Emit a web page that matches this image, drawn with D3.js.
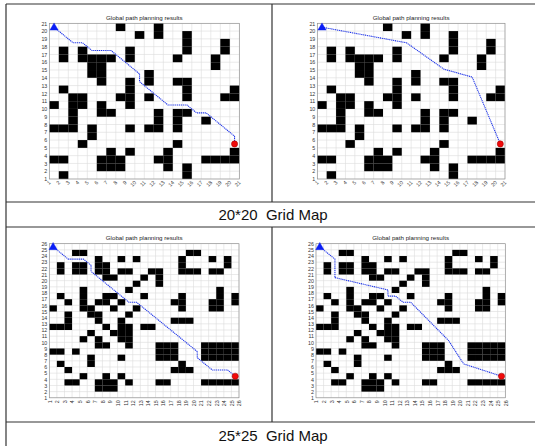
<!DOCTYPE html>
<html>
<head>
<meta charset="utf-8">
<script src="https://cdn.jsdelivr.net/npm/d3@7"></script>
<style>
  body { margin: 0; background: #fff; }
  svg { display: block; }
</style>
</head>
<body>
<svg id="fig" width="535" height="446"></svg>
<script>
const titleText = "Global path planning results";
const captions = ["20*20  Grid Map", "25*25  Grid Map"];

// obstacle cells, one entry per grid row: [row, [columns]]
const blocks20 = [
  [20, [8, 12]],
  [19, [10, 12, 15]],
  [18, [15, 19]],
  [17, [2, 4, 9, 15, 19]],
  [16, [2, 4, 5, 6, 7, 9, 14, 18]],
  [15, [5, 6, 18]],
  [14, [5, 6, 11]],
  [13, [6, 9, 11, 14, 15]],
  [12, [2, 9, 15, 20]],
  [11, [3, 4, 8, 9, 11, 15, 19, 20]],
  [10, [1, 3, 4, 6, 9]],
  [9, [3, 6, 7, 12, 14, 15]],
  [8, [3, 12, 14, 17]],
  [7, [1, 2, 3, 5, 9, 11, 12, 14]],
  [6, [5]],
  [5, [4, 14]],
  [4, [7, 9, 13, 20]],
  [3, [1, 2, 6, 7, 8, 12, 13, 17, 18, 19, 20]],
  [2, [6, 7, 8, 13, 15]],
  [1, [2, 15]]
];

const blocks25 = [
  [24, [4, 5, 19, 20]],
  [23, [7, 10, 12, 18, 22, 24]],
  [22, [2, 4, 5, 7, 8, 18, 24]],
  [21, [2, 4, 5, 7, 8, 10, 11, 14, 15, 18, 19, 20, 22, 23]],
  [20, [8, 9, 13, 15]],
  [19, [12, 15]],
  [18, [5, 11, 23]],
  [17, [2, 5, 8, 9, 13, 18, 23, 25]],
  [16, [3, 5, 7, 8, 10, 17, 18, 22, 23, 25]],
  [15, [1, 5, 6, 9, 12, 18, 22, 23]],
  [14, [3, 6, 7, 11]],
  [13, [3, 7, 10, 17, 18, 19]],
  [12, [1, 2, 3, 8, 10, 11, 13, 14]],
  [11, [6, 9, 10, 11]],
  [10, [5, 7, 10, 11]],
  [9, [7, 8, 11, 15, 16, 17, 21, 22, 23, 24, 25]],
  [8, [1, 2, 4, 15, 16, 17, 21, 22, 23, 24, 25]],
  [7, [6, 10, 15, 16, 17, 21, 22, 23, 24, 25]],
  [6, [2, 6, 18]],
  [5, [3, 17, 18, 19]],
  [4, [5, 8, 10]],
  [3, [3, 4, 7, 8, 9, 11, 15, 16, 21, 22, 23, 24, 25]],
  [2, [7, 8, 9]]
];

// planned paths (x, y in grid units)
const path20a = [[1.5,20.5],[2.5,19.5],[3.5,18.5],[4.5,18.5],[5.5,17.5],[6.5,17.5],[7.5,17.5],
  [8.5,16.5],[9.5,15.5],[10.5,14.5],[10.5,13.5],[11.5,12.5],[12.5,11.5],[13.5,10.5],[14.5,10.5],
  [15.5,10.5],[16.5,9.5],[17.5,9.5],[18.5,8.5],[19.5,7.5],[20.5,6.5],[20.5,5.5]];
const path20b = [[1.5,20.5],[10.5,18.5],[14.5,15.1],[17.5,14.1],[20.5,5.5]];
const path25a = [[1.5,25.5],[2.5,24.5],[3.5,23.5],[4.5,23.5],[5.5,23.5],[6.5,22.5],[6.5,21.5],
  [7.5,20.5],[8.5,19.5],[9.5,18.5],[10.5,17.5],[11.5,16.5],[12.5,16.5],[13.5,15.5],[14.5,14.5],
  [15.5,13.5],[16.5,12.5],[17.5,11.5],[18.5,10.5],[19.5,9.5],[20.5,8.5],[20.5,7.5],[21.5,6.5],
  [22.5,5.5],[23.5,5.5],[24.5,5.5],[25.5,4.5]];
const path25b = [[1.5,25.5],[3.5,23.5],[3.5,20.5],[10.5,18.5],[10.5,17.5],[11.5,17.5],[12.5,16.5],
  [13.5,16.5],[18.5,10.3],[20.5,6.5],[25.5,4.5]];

const svg = d3.select("#fig");
const font = "'Liberation Sans', Arial, sans-serif";

const panels = [
  { n: 20, blocks: blocks20, path: path20a, x0: 49.3, x1: 239.3, y0: 23.3, y1: 179, angle: -45, ty: 19.5 },
  { n: 20, blocks: blocks20, path: path20b, x0: 317.3, x1: 505, y0: 23.3, y1: 179, angle: -45, ty: 19.5 },
  { n: 25, blocks: blocks25, path: path25a, x0: 49.3, x1: 239, y0: 243.7, y1: 397.8, angle: -90, ty: 240 },
  { n: 25, blocks: blocks25, path: path25b, x0: 316, x1: 505.3, y0: 243.7, y1: 397.8, angle: -90, ty: 240 }
];

function drawPanel(p) {
  const g = svg.append("g");
  const x = d3.scaleLinear().domain([1, p.n + 1]).range([p.x0, p.x1]);
  const y = d3.scaleLinear().domain([1, p.n + 1]).range([p.y1, p.y0]);
  const ticks = d3.range(1, p.n + 2);

  // grid lines
  g.append("g").selectAll("line")
    .data(ticks).join("line")
    .attr("x1", d => x(d)).attr("x2", d => x(d))
    .attr("y1", p.y0).attr("y2", p.y1)
    .attr("stroke", "#dcdcdc").attr("stroke-width", 0.6);
  g.append("g").selectAll("line")
    .data(ticks).join("line")
    .attr("y1", d => y(d)).attr("y2", d => y(d))
    .attr("x1", p.x0).attr("x2", p.x1)
    .attr("stroke", "#dcdcdc").attr("stroke-width", 0.6);

  // obstacles
  const cells = p.blocks.flatMap(([r, cols]) => cols.map(c => ({ c: c, r: r })));
  g.append("g").selectAll("rect")
    .data(cells).join("rect")
    .attr("x", d => x(d.c))
    .attr("y", d => y(d.r + 1))
    .attr("width", d => x(d.c + 1) - x(d.c))
    .attr("height", d => y(d.r) - y(d.r + 1))
    .attr("fill", "#000");

  // frame
  g.append("rect")
    .attr("x", p.x0).attr("y", p.y0)
    .attr("width", p.x1 - p.x0).attr("height", p.y1 - p.y0)
    .attr("fill", "none").attr("stroke", "#8a8a8a").attr("stroke-width", 0.6);

  // axes
  const yAxis = g.append("g")
    .attr("transform", `translate(${p.x0},0)`)
    .call(d3.axisLeft(y).tickValues(ticks).tickSize(0).tickPadding(2));
  const xAxis = g.append("g")
    .attr("transform", `translate(0,${p.y1})`)
    .call(d3.axisBottom(x).tickValues(ticks).tickSize(0).tickPadding(0));
  [yAxis, xAxis].forEach(a => {
    a.select(".domain").remove();
    a.selectAll("text").attr("font-family", font).attr("font-size", 5.3).attr("fill", "#333");
  });
  xAxis.selectAll("text")
    .attr("y", 0).attr("dy", "0.35em")
    .attr("text-anchor", "end")
    .attr("transform", `translate(0,2.5) rotate(${p.angle})`);

  // title
  g.append("text")
    .attr("x", (p.x0 + p.x1) / 2).attr("y", p.ty)
    .attr("text-anchor", "middle")
    .attr("font-family", font).attr("font-size", 6.2).attr("fill", "#222")
    .text(titleText);

  // path
  const line = d3.line().x(d => x(d[0])).y(d => y(d[1]));
  g.append("path")
    .datum(p.path)
    .attr("d", line)
    .attr("fill", "none")
    .attr("stroke", "#2036e8")
    .attr("stroke-width", 1.1)
    .attr("stroke-dasharray", "1.2 0.7");

  const s = p.path[0], e = p.path[p.path.length - 1];
  g.append("path")
    .attr("d", d3.symbol(d3.symbolTriangle, 30)())
    .attr("transform", `translate(${x(s[0])},${y(s[1]) + 0.5})`)
    .attr("fill", "#0a1ef5").attr("stroke", "#0a1ef5").attr("stroke-width", 0.4);
  g.append("circle")
    .attr("cx", x(e[0])).attr("cy", y(e[1]))
    .attr("r", 3.1)
    .attr("fill", "#f00a0a").attr("stroke", "#9a0000").attr("stroke-width", 0.5);
}

panels.forEach(drawPanel);

// table rules
const rule = "#333";
const rules = [
  [6, 4, 535, 4], [6, 4, 6, 446],
  [6, 202, 535, 202], [6, 227, 535, 227], [6, 422, 535, 422],
  [272, 4, 272, 202], [272, 227, 272, 422]
];
svg.append("g").selectAll("line")
  .data(rules).join("line")
  .attr("x1", d => d[0]).attr("y1", d => d[1])
  .attr("x2", d => d[2]).attr("y2", d => d[3])
  .attr("stroke", rule).attr("stroke-width", 1.2);

svg.append("g").selectAll("text")
  .data(captions).join("text")
  .attr("x", 273)
  .attr("y", (d, i) => i === 0 ? 220 : 441)
  .attr("text-anchor", "middle")
  .attr("font-family", font)
  .attr("font-size", 15)
  .attr("fill", "#111")
  .style("white-space", "pre")
  .text(d => d);
</script>
</body>
</html>
